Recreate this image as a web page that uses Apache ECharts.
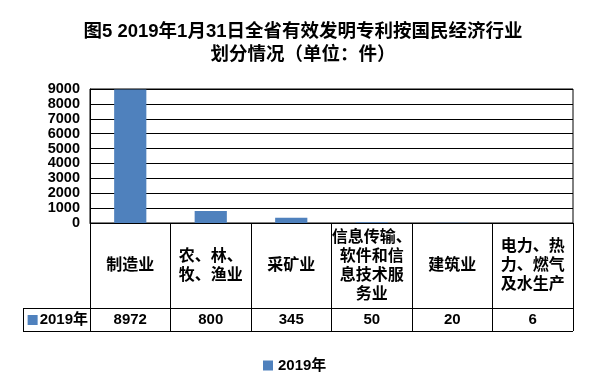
<!DOCTYPE html>
<html><head><meta charset="utf-8">
<script src="https://cdn.jsdelivr.net/npm/echarts@6/dist/echarts.min.js"></script>
<style>html,body{margin:0;padding:0;background:#fff}#c{width:606px;height:382px}</style>
</head><body><div id="c"></div>
<script>
var titleText = '图5 2019年1月31日全省有效发明专利按国民经济行业\n划分情况（单位：件）';
var seriesName = '2019年';
var categories = ['制造业', '农、林、\n牧、渔业', '采矿业', '信息传输、\n软件和信\n息技术服\n务业', '建筑业', '电力、热\n力、燃气\n及水生产'];
var values = [8972, 800, 345, 50, 20, 6];
var yTicks = {min: 0, max: 9000, interval: 1000};

var FONT = "'Liberation Sans','Noto Sans CJK SC',sans-serif";
var BLUE = '#4F81BD';
var chart = echarts.init(document.getElementById('c'), null, {renderer: 'canvas'});
chart.setOption({
  animation: false,
  backgroundColor: '#fff',
  grid: {left: 90, right: 33, top: 89, bottom: 159, show: true, borderColor: '#000', borderWidth: 1},
  legend: {
    data: [seriesName], left: 258, top: 353, icon: 'rect', itemWidth: 10, itemHeight: 10, itemGap: 4,
    textStyle: {fontFamily: FONT, fontWeight: 'bold', fontSize: 15, color: '#000'}
  },
  xAxis: [{
    type: 'category', data: categories, position: 'bottom',
    axisLine: {show: true, lineStyle: {color: '#000', width: 1}},
    axisTick: {show: true, length: 108, interval: 0, lineStyle: {color: '#000', width: 1}},
    axisLabel: {interval: 0, margin: 43, verticalAlign: 'middle', lineHeight: 19,
      fontFamily: FONT, fontWeight: 'bold', fontSize: 16, color: '#000'}
  }, {
    type: 'category', data: values.map(String), position: 'bottom', offset: 97,
    axisLine: {show: false}, axisTick: {show: false},
    axisLabel: {interval: 0, margin: 0, verticalAlign: 'middle',
      fontFamily: FONT, fontWeight: 'bold', fontSize: 15, color: '#000'},
    name: '{sq|}{t|' + seriesName + '}', nameLocation: 'start', nameGap: 2,
    nameTextStyle: {
      verticalAlign: 'middle',
      rich: {
        sq: {width: 10, height: 10, backgroundColor: BLUE},
        t: {fontFamily: FONT, fontWeight: 'bold', fontSize: 15, color: '#000', padding: [0, 0, 0, 2]}
      }
    }
  }],
  yAxis: {
    type: 'value', min: yTicks.min, max: yTicks.max, interval: yTicks.interval,
    axisLine: {show: true, lineStyle: {color: '#000'}}, axisTick: {show: false},
    splitLine: {show: true, lineStyle: {color: '#000', width: 1}},
    axisLabel: {margin: 10, formatter: function (v) { return String(v); },
      fontFamily: FONT, fontWeight: 'bold', fontSize: 14.5, color: '#000'}
  },
  series: [{
    name: seriesName, type: 'bar', data: values, xAxisIndex: 0,
    barCategoryGap: '60%', itemStyle: {color: BLUE}
  }],
  graphic: [
    {type: 'text', x: 303, y: 43.5, style: {text: titleText, align: 'center', verticalAlign: 'middle',
      lineHeight: 23, font: "bold 18.5px " + FONT, fill: '#000'}},
    {type: 'line', shape: {x1: 23, y1: 308.5, x2: 573, y2: 308.5}, style: {stroke: '#000', lineWidth: 1}},
    {type: 'line', shape: {x1: 23, y1: 331.5, x2: 573, y2: 331.5}, style: {stroke: '#000', lineWidth: 1}},
    {type: 'line', shape: {x1: 23.5, y1: 308, x2: 23.5, y2: 332}, style: {stroke: '#000', lineWidth: 1}}
  ]
});
</script></body></html>
